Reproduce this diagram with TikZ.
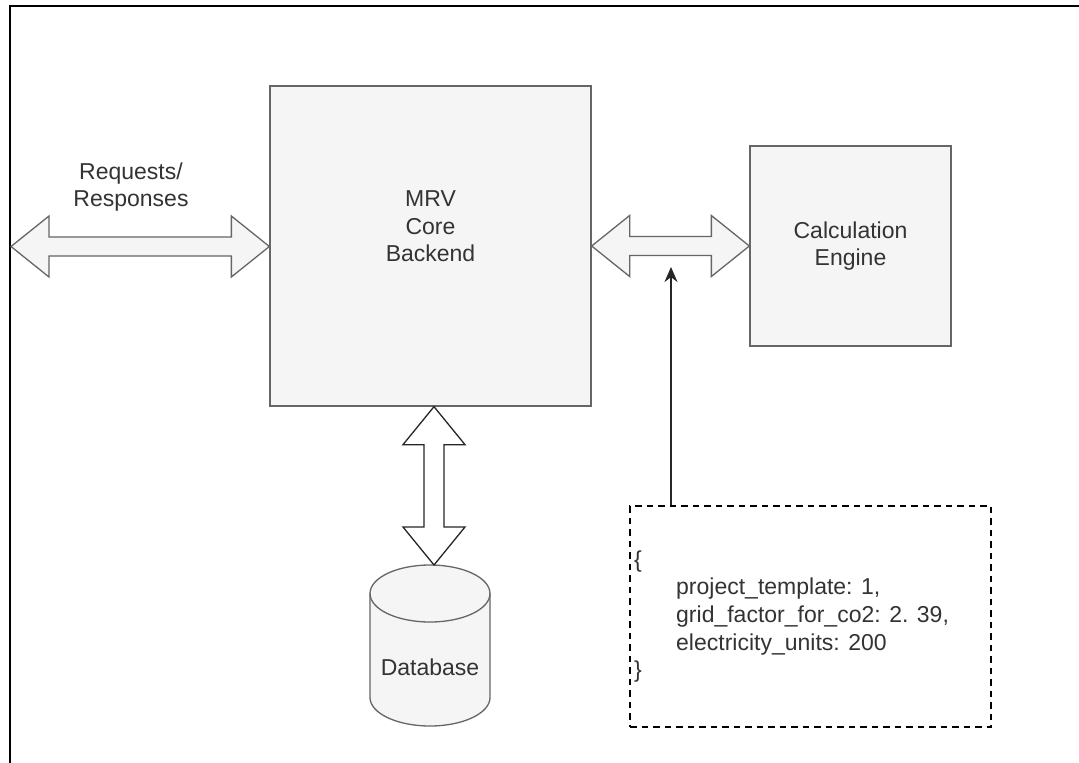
\documentclass[tikz,border=0pt]{standalone}
\usepackage{fontspec}
\setmainfont{Liberation Sans}
\usetikzlibrary{calc,arrows.meta}
\definecolor{boxfill}{HTML}{F5F5F5}
\definecolor{boxdraw}{HTML}{666666}
\definecolor{txtcol}{HTML}{333333}
\newcommand\hfatarrow[3][]{%
  \path[#1] let \p1=#2, \p2=#3 in
    (\x1,\y1) -- (\x1+38pt,\y1+30.5pt) -- (\x1+38pt,\y1+9.5pt) -- (\x2-38pt,\y1+9.5pt)
    -- (\x2-38pt,\y1+30.5pt) -- (\x2,\y1) -- (\x2-38pt,\y1-30.5pt) -- (\x2-38pt,\y1-9.5pt)
    -- (\x1+38pt,\y1-9.5pt) -- (\x1+38pt,\y1-30.5pt) -- cycle;}
\newcommand\vfatarrow[3][]{%
  \path[#1] let \p1=#2, \p2=#3 in
    (\x1,\y1) -- (\x1+31pt,\y1-38pt) -- (\x1+10pt,\y1-38pt) -- (\x1+10pt,\y2+38pt)
    -- (\x1+31pt,\y2+38pt) -- (\x1,\y2) -- (\x1-31pt,\y2+38pt) -- (\x1-10pt,\y2+38pt)
    -- (\x1-10pt,\y1-38pt) -- (\x1-31pt,\y1-38pt) -- cycle;}
\tikzset{
  graybox/.style={draw=boxdraw, fill=boxfill, line width=1.3pt, inner sep=0pt},
  txt/.style={text=txtcol, font=\fontsize{23}{27.6}\selectfont, align=center, inner sep=0pt},
  grayfat/.style={draw=boxdraw, fill=boxfill, line width=1.3pt, line join=miter},
  blackfat/.style={draw=black!85, fill=white, line width=1.3pt, line join=miter},
  jsonbox/.style={draw=black, dash pattern=on 6.5pt off 5pt, line width=1.3pt, inner sep=0pt},
  ptr/.style={draw=black!85, line width=1.3pt, -{Stealth[length=15pt,width=13pt]}},
}
\begin{document}
\begin{tikzpicture}[x=1pt,y=-1pt]
\useasboundingbox (0,0) rectangle (1079,763);
\fill[white] (0,0) rectangle (1079,763);
% outer frame (only top and left edges visible)
\draw[line width=2pt] (10,763) -- (10,6) -- (1079,6);

% main box
\node[graybox, minimum width=321pt, minimum height=320pt] (main) at (430.5,246) {};
\node[txt] (mainlbl) at (430.5,226.5) {MRV\\Core\\Backend};

% calculation engine
\node[graybox, minimum width=201pt, minimum height=200pt] (calc) at (850.5,246) {};
\node[txt] (calclbl) at (calc.center) {Calculation\\Engine};

% json box
\node[jsonbox, minimum width=361pt, minimum height=221pt] (json) at (810.5,616.5) {};
\node[txt, align=left, anchor=west] (jsonlbl) at (634,616.5)
  {\{\\\hspace*{42pt}project\_template: 1,\\\hspace*{42pt}grid\_factor\_for\_co2: 2. 39,\\\hspace*{42pt}electricity\_units: 200\\\}};

% database cylinder
\coordinate (dbc) at (430,565);
\path[draw=boxdraw, fill=boxfill, line width=1.3pt]
  (370,593.5) arc[start angle=180, end angle=0, x radius=60pt, y radius=28.5pt]
  -- (490,697.5) arc[start angle=0, end angle=-180, x radius=60pt, y radius=28.5pt] -- cycle;
\draw[boxdraw, line width=1.3pt] (370,593.5) arc[start angle=180, end angle=360, x radius=60pt, y radius=28.5pt];
\node[txt] (db) at (430,667) {Database};

% requests label
\node[txt] (reqlbl) at (131,187) {Requests/\\Responses};

% connectors
\coordinate (client) at (11,246.5);
\hfatarrow[grayfat]{(client)}{(main.west |- client)}
\hfatarrow[grayfat]{(main.east)}{(calc.west)}
\coordinate (dbtop) at (434,565);
\vfatarrow[blackfat]{(main.south -| dbtop)}{(dbtop)}
\coordinate (calltip) at (671,267);
\draw[ptr] (json.north -| calltip) -- (calltip);
\end{tikzpicture}
\end{document}
